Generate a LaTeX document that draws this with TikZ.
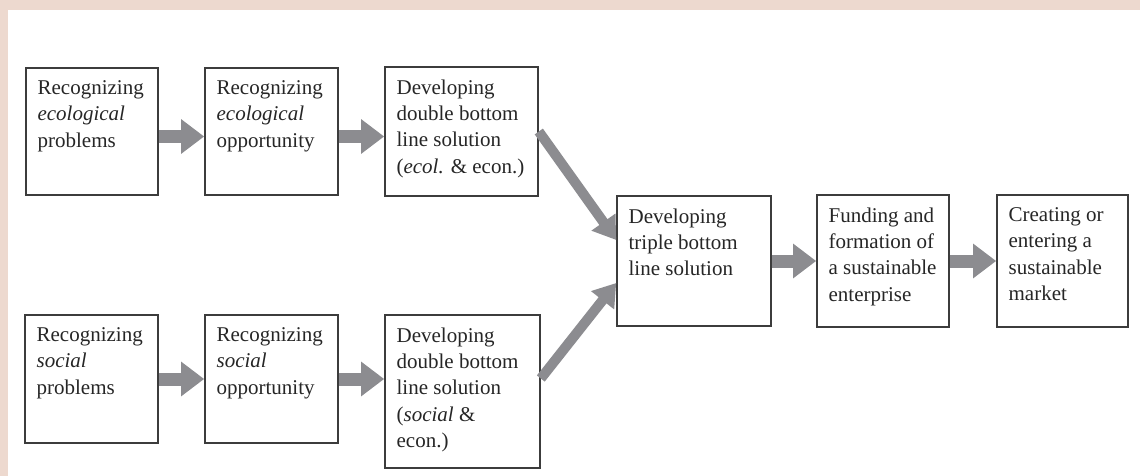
\documentclass[tikz,border=0pt]{standalone}
\usepackage{fontspec}
\setmainfont{Liberation Serif}
\usetikzlibrary{arrows.meta}
\definecolor{bgpink}{HTML}{EDD9CF}
\definecolor{boxline}{HTML}{3C3C3C}
\definecolor{arrgray}{HTML}{8C8C90}
\tikzset{
  box/.style={draw=boxline, line width=0.8pt, inner sep=0pt, fill=white},
  txt/.style={anchor=north west, inner sep=0pt, align=left, font=\fontsize{10.5pt}{13.2pt}\selectfont, text=black!85},
  arr/.style={draw=arrgray, line width=6.5pt, -{Triangle[width=16.5pt,length=11.5pt]}},
  darr/.style={draw=arrgray, line width=5pt, -{Triangle[width=14pt,length=11pt]}},
}
\begin{document}
\begin{tikzpicture}[x=0.5pt,y=-0.5pt]
\useasboundingbox (0,0) rectangle (1140,476);
\fill[bgpink] (0,0) rectangle (1140,476);
\fill[white] (8,10) rectangle (1140,476);
% boxes
\node[box, minimum width=66pt, minimum height=63.5pt] (b1) at (92,131.5) {};
\node[box, minimum width=66.5pt, minimum height=63.5pt] (b2) at (271.5,131.5) {};
\node[box, minimum width=76.5pt, minimum height=64.5pt] (b3) at (461.5,131.5) {};
\node[box, minimum width=77pt, minimum height=65pt] (t) at (694,261) {};
\node[box, minimum width=66pt, minimum height=66pt] (f) at (883,261) {};
\node[box, minimum width=65.5pt, minimum height=66pt] (c) at (1062.5,261) {};
\node[box, minimum width=66.5pt, minimum height=64pt] (b4) at (91.5,379) {};
\node[box, minimum width=66.5pt, minimum height=64pt] (b5) at (271.5,379) {};
\node[box, minimum width=77.5pt, minimum height=76.5pt] (b6) at (462.5,391.5) {};
% texts
\node[txt] (tb1) at ([shift={(6pt,-6.5pt)}]b1.north west) {Recognizing\\\textit{ecological}\\problems};
\node[txt] (tb2) at ([shift={(6pt,-6.5pt)}]b2.north west) {Recognizing\\\textit{ecological}\\opportunity};
\node[txt] (tb3) at ([shift={(6pt,-6.5pt)}]b3.north west) {Developing\\double bottom\\line solution\\(\textit{ecol.} \& econ.)};
\node[txt] (tt) at ([shift={(6pt,-6.5pt)}]t.north west) {Developing\\triple bottom\\line solution};
\node[txt] (tf) at ([shift={(6pt,-6.5pt)}]f.north west) {Funding and\\formation of\\a sustainable\\enterprise};
\node[txt] (tc) at ([shift={(6pt,-6.5pt)}]c.north west) {Creating or\\entering a\\sustainable\\market};
\node[txt] (tb4) at ([shift={(6pt,-6.5pt)}]b4.north west) {Recognizing\\\textit{social}\\problems};
\node[txt] (tb5) at ([shift={(6pt,-6.5pt)}]b5.north west) {Recognizing\\\textit{social}\\opportunity};
\node[txt] (tb6) at ([shift={(6pt,-6.5pt)}]b6.north west) {Developing\\double bottom\\line solution\\(\textit{social} \&\\econ.)};
% arrows
\draw[arr] ([yshift=-2.5pt]b1.east) -- ([yshift=-2.5pt]b2.west);
\draw[arr] ([yshift=-2.5pt]b2.east) -- ([yshift=-2.5pt]b3.west);
\draw[arr] (b4.east) -- (b5.west);
\draw[arr] (b5.east) -- (b5.east -| b6.west);
\draw[darr] (b3.east) -- ([yshift=10.5pt]t.west);
\draw[darr] ([yshift=6.5pt]b6.east) -- ([yshift=-11pt]t.west);
\draw[arr] (t.east) -- (f.west);
\draw[arr] (f.east) -- (c.west);
\end{tikzpicture}
\end{document}
